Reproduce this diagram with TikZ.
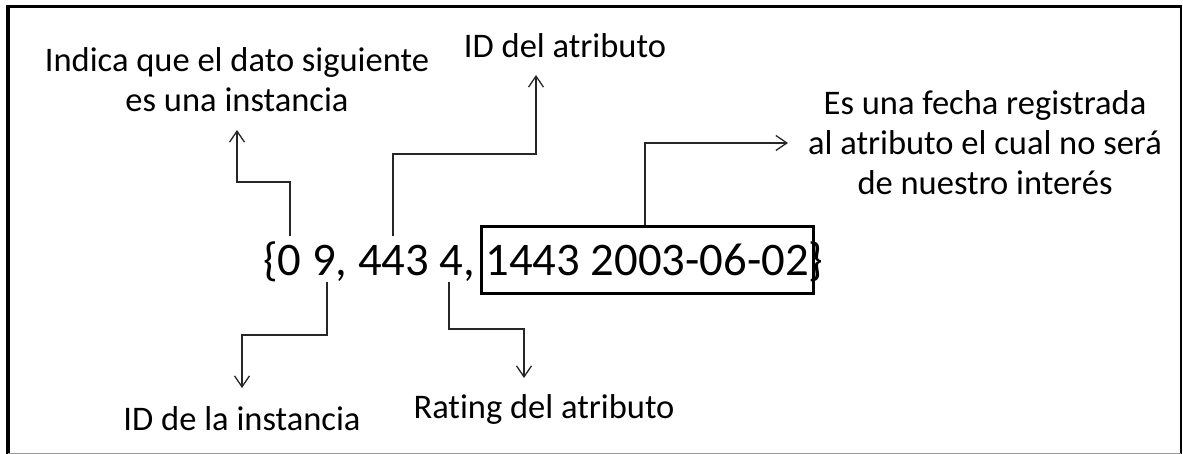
\documentclass[tikz,border=0pt]{standalone}
\usepackage{fontspec}
\setmainfont{Carlito}[Ligatures=NoCommon]
\usetikzlibrary{arrows.meta}
\begin{document}
\begin{tikzpicture}[x=1pt,y=-1pt,
  lbl/.style={inner sep=0pt, align=center, font=\fontsize{34.5}{40}\selectfont},
  maintext/.style={inner sep=0pt, font=\fontsize{46.7}{54}\selectfont},
  conn/.style={line width=1.3pt, draw=black!85, -{Straight Barb[length=11pt,width=15pt,line width=1.3pt]}},
  framebox/.style={draw, line width=3pt, inner sep=0pt, minimum width=332pt, minimum height=67pt}
]
\useasboundingbox (0,0) rectangle (1183,454);
\fill[white] (0,0) rectangle (1183,454);
% outer frame
\draw[line width=3.3pt] (6,6.7) -- (1182,6.7);
\draw[line width=4pt] (8,5) -- (8,454);
\draw[line width=2pt] (1181,5) -- (1181,454);
\draw[black!40, line width=1pt] (8,453) -- (1181,453);
% main text and box
\node[maintext, anchor=base west] (main) at (263,276) {\{0 9, 443 4, 1443 2003-06-02\}};
\node[framebox, anchor=north west] (box) at (480,225) {};
% labels (base = baseline of the last line)
\node[lbl, anchor=base] (l1) at (237,112) {Indica que el dato siguiente\\es una instancia};
\node[lbl, anchor=base] (l2) at (565,58) {ID del atributo};
\node[lbl, anchor=base] (l3) at (985,195) {Es una fecha registrada\\al atributo el cual no será\\de nuestro interés};
\node[lbl, anchor=base] (l4) at (242,430) {ID de la instancia};
\node[lbl, anchor=base] (l5) at (544,418) {Rating del atributo};
% connector ends
\coordinate (s1) at (290,236); \coordinate (t1) at (237,130);
\coordinate (s2) at (393,236); \coordinate (t2) at (536,75);
\coordinate (s3) at (645,225); \coordinate (t3) at (788,143);
\coordinate (s4) at (327,282); \coordinate (t4) at (242,388);
\coordinate (s5) at (449,282); \coordinate (t5) at (524,378);
% connectors
\draw[conn] (s1) -- (s1 |- 0,182) -| (t1);
\draw[conn] (s2) -- (s2 |- 0,154) -| (t2);
\draw[conn] (s3) |- (t3);
\draw[conn] (s4) -- (s4 |- 0,335) -| (t4);
\draw[conn] (s5) -- (s5 |- 0,329) -| (t5);
\end{tikzpicture}
\end{document}
